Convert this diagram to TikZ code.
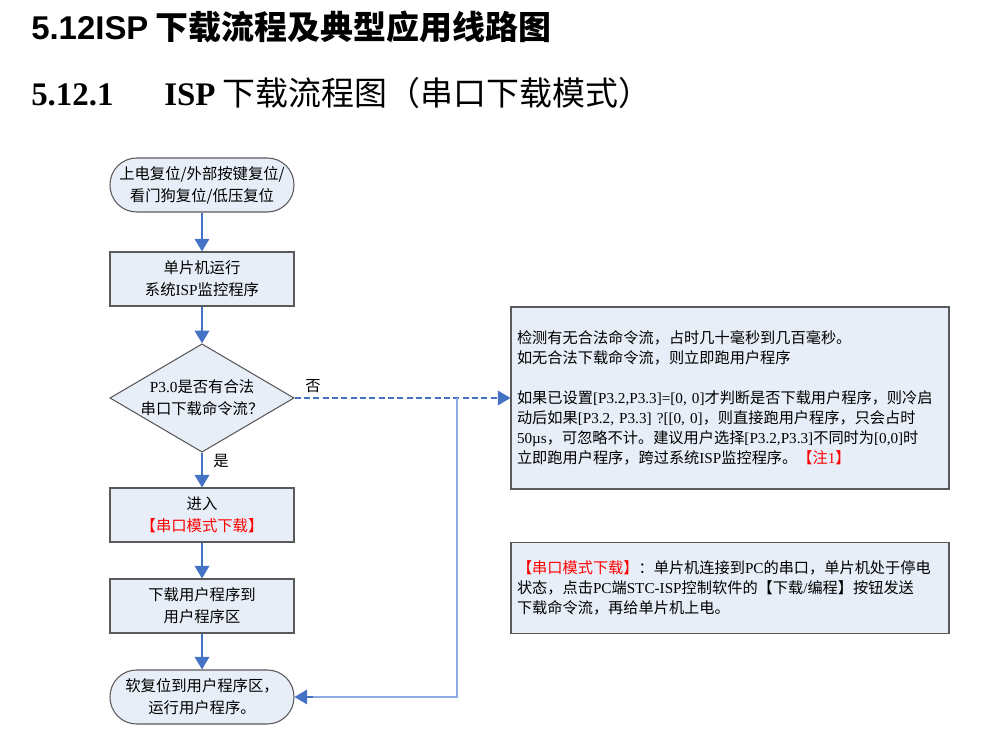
\documentclass[tikz,border=0pt]{standalone}
\usepackage{fontspec}
\setmainfont{Noto Sans CJK SC}
\newfontfamily\westfont{Liberation Serif}
\newfontfamily\headfont{Liberation Sans}
\usepackage{tikz}
\usetikzlibrary{arrows.meta,shapes.geometric}
\usepackage{xcolor}
\definecolor{boxFill}{RGB}{232, 238, 247}
\definecolor{boxLine}{RGB}{90, 90, 90}
\definecolor{flowBlue}{RGB}{68, 114, 196}
\definecolor{loopBlue}{RGB}{143, 170, 220}
\definecolor{noteRed}{RGB}{255, 0, 0}
\newcommand{\wf}[1]{{\westfont #1}}

\begin{document}
\begin{tikzpicture}[x=0.75pt, y=-0.75pt,
        flowtext/.style={font=\fontsize{11.5}{16.5}\selectfont, align=center},
        procbox/.style={flowtext, draw=boxLine, fill=boxFill, line width=0.8pt,
            minimum width=138pt, minimum height=40.5pt},
        terminal/.style={procbox, rounded corners=20pt},
        decision/.style={flowtext, diamond, draw=boxLine, fill=boxFill, line width=0.8pt,
            aspect=1.7, inner sep=0pt, minimum width=136.5pt},
        notebox/.style={draw=boxLine, fill=boxFill, line width=0.8pt,
            font=\fontsize{11.4}{15}\selectfont, align=left, text width=319.5pt,
            inner xsep=4.5pt, minimum width=328.5pt},
        flow/.style={draw=flowBlue, line width=1.1pt, -{Triangle[length=9.5pt,width=11pt]}},
        loopline/.style={draw=loopBlue, line width=0.8pt}]
    \useasboundingbox (0,0) rectangle (1003,745);

    % headings
    \node[anchor=west, inner sep=0pt, font=\fontsize{24.7}{28}\selectfont\bfseries] (mainTitle) at (31,27)
        {{\headfont 5.12ISP} 下载流程及典型应用线路图};
    \node[anchor=west, inner sep=0pt, font=\fontsize{24.7}{28}\selectfont] (subTitle) at (31,93)
        {\wf{\bfseries 5.12.1}\hspace{38pt}\wf{\bfseries ISP} 下载流程图（串口下载模式）};

    % flow chart
    \node[terminal] (reset) at (202,185) {上电复位/外部按键复位/\\看门狗复位/低压复位};
    \node[procbox] (monitor) at (202,279) {单片机运行\\系统\wf{ISP}监控程序};
    \node[decision] (check) at (202,398) {\wf{P3.0}是否有合法\\串口下载命令流？};
    \node[procbox] (enter) at (202,515) {进入\\\textcolor{noteRed}{【串口模式下载】}};
    \node[procbox] (download) at (202,606) {下载用户程序到\\用户程序区};
    \node[terminal] (run) at (202,697) {软复位到用户程序区，\\运行用户程序。};

    \node[flowtext] (noLabel) at (313,386) {否};
    \node[flowtext] (yesLabel) at (221,461) {是};

    % notes
    \node[notebox, minimum height=136.5pt] (detectNote) at (730,398)
        {检测有无合法命令流，占时几十毫秒到几百毫秒。\\
         如无合法下载命令流，则立即跑用户程序\\[15pt]
         如果已设置\wf{[P3.2,P3.3]=[0, 0]}才判断是否下载用户程序，则冷启\\
         动后如果\wf{[P3.2, P3.3] ?[[0, 0]}，则直接跑用户程序，只会占时\\
         \wf{50µs}，可忽略不计。建议用户选择\wf{[P3.2,P3.3]}不同时为\wf{[0,0]}时\\
         立即跑用户程序，跨过系统\wf{ISP}监控程序。\textcolor{noteRed}{【注\wf{1}】}};
    \node[notebox, minimum height=68pt] (serialNote) at (730,588)
        {\textcolor{noteRed}{【串口模式下载】}：单片机连接到\wf{PC}的串口，单片机处于停电\\
         状态，点击\wf{PC}端\wf{STC-ISP}控制软件的【下载\wf{/}编程】按钮发送\\
         下载命令流，再给单片机上电。};

    % connectors
    \draw[flow] (reset) -- (monitor);
    \draw[flow] (monitor) -- (check);
    \draw[flow] (check) -- (enter);
    \draw[flow] (enter) -- (download);
    \draw[flow] (download) -- (run);
    \draw[flow, dash pattern=on 4.5pt off 2.5pt] (check.east) -- (detectNote.west);

    \coordinate (split) at (457,398);
    \draw[loopline] (split) |- ([xshift=14pt]run.east);
    \draw[flow] ([xshift=14pt]run.east) -- (run.east);
\end{tikzpicture}
\end{document}
